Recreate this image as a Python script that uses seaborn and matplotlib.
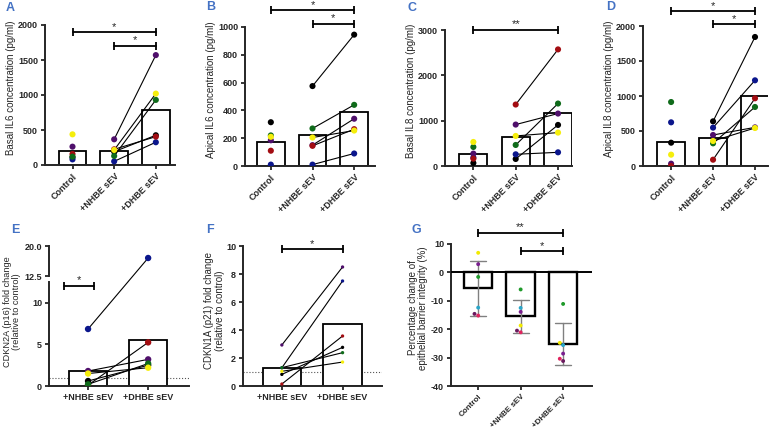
import numpy as np
import pandas as pd
import matplotlib.pyplot as plt
import seaborn as sns
from matplotlib.patches import ConnectionPatch

sns.set_style("ticks")
plt.rcParams["font.family"] = ["Liberation Sans", "DejaVu Sans"]
plt.rcParams["axes.unicode_minus"] = False

# -----------------------------
# data
# -----------------------------
groups3 = ["Control", "+NHBE sEV", "+DHBE sEV"]
groups2 = ["+NHBE sEV", "+DHBE sEV"]
donors = ["black", "navy", "purple", "red", "green", "yellow"]
donor_colors = ["#000000", "#0b168c", "#4f0f6b", "#a30d12", "#0f6b1a", "#f5ee0c"]

# A - basal IL6 (pg/ml)
a_ctrl = [110, 80, 262, 157, 119, 438]
a_nhbe = [190, 52, 367, 224, 129, 215]
a_dhbe = [425, 325, 1570, 405, 930, 1020]

# B - apical IL6 (pg/ml)
b_ctrl = [315, 10, 185, 110, 220, 210]
b_nhbe = [575, 10, 150, 145, 270, 205]
b_dhbe = [945, 90, 340, 265, 440, 255]

# C - basal IL8 (pg/ml)
c_ctrl = [66, 187, 273, 162, 420, 530]
c_nhbe = [155, 258, 914, 1356, 464, 663]
c_dhbe = [906, 302, 1157, 2572, 1378, 737]

# D - apical IL8 (pg/ml)
d_ctrl = [333, 624, 33, 0, 914, 162]
d_nhbe = [638, 548, 443, 90, 324, 357]
d_dhbe = [1843, 1224, 552, 967, 843, 543]

# E - CDKN2A (p16) fold change
e_nhbe = [0.6, 6.85, 1.8, 0.1, 0.2, 1.5]
e_dhbe = [2.5, 17.0, 3.2, 5.24, 2.7, 2.2]

# F - CDKN1A (p21) fold change
f_nhbe = [0.83, 1.3, 2.93, 0.14, 1.31, 1.05]
f_dhbe = [2.76, 7.5, 8.5, 3.57, 2.38, 1.71]

# G - barrier integrity change (%)
g_donors = ["yellow", "purple", "green", "cyan", "crimson", "plum"]
g_colors = ["#f2ea00", "#7a1f8f", "#1f9a2a", "#2aa6c9", "#e0245e", "#6b1a5e"]
g_ctrl = [6.9, 2.9, -1.6, -12.4, -15.2, -14.6]
g_nhbe = [-18.7, -13.9, -6.0, -12.5, -21.1, -20.5]
g_dhbe = [-24.8, -28.6, -11.1, -25.6, -30.4, -31.2]


def make_df(cols, order, names):
    rows = []
    for g, vals in zip(order, cols):
        for d, v in zip(names, vals):
            rows.append({"group": g, "donor": d, "value": v})
    return pd.DataFrame(rows)


W, H = 784, 432
fig = plt.figure(figsize=(W / 100, H / 100), dpi=100)


def add_ax(x0, y0, x1, y1):
    return fig.add_axes([x0 / W, 1 - y1 / H, (x1 - x0) / W, (y1 - y0) / H])


def style(ax, xlim, ylim, yticks, rot=True, order=groups3, xfs=6.5):
    ax.set_xlim(xlim)
    ax.set_ylim(ylim)
    ax.set_yticks(yticks)
    sns.despine(ax=ax)
    for s in ["left", "bottom"]:
        ax.spines[s].set_linewidth(1.4)
    ax.tick_params(width=1.3, length=3, labelsize=6.5, pad=2)
    ax.set_xticks(range(len(order)))
    if rot:
        ax.set_xticklabels(order, rotation=45, ha="right", rotation_mode="anchor",
                           fontweight="bold", fontsize=xfs)
    else:
        ax.set_xticklabels(order, fontweight="bold", fontsize=xfs)
    for lab in ax.get_yticklabels():
        lab.set_fontweight("bold")
    ax.set_xlabel("")


def bracket(ax, x1, x2, y, text):
    ax.plot([x1, x2], [y, y], color="black", lw=1.3, marker="|", ms=6, mew=1.3,
            clip_on=False, zorder=4)
    ax.annotate(text, ((x1 + x2) / 2, y), xytext=(0, 0.5), textcoords="offset points",
                ha="center", va="bottom", fontsize=8, annotation_clip=False)


def paired_panel(ax, df, order, nhbe, dhbe, size=4.4, width=0.66, lw=1.3):
    sns.barplot(data=df, x="group", y="value", order=order, errorbar=None,
                color="white", edgecolor="black", linewidth=lw, width=width, ax=ax)
    i0 = order.index("+NHBE sEV")
    for v0, v1 in zip(nhbe, dhbe):
        ax.plot([i0, i0 + 1], [v0, v1], color="black", lw=0.8, zorder=3)
    sns.stripplot(data=df, x="group", y="value", order=order, hue="donor",
                  hue_order=donors, palette=donor_colors, jitter=False, size=size,
                  linewidth=0, legend=False, ax=ax, zorder=4)


def panel_letter(x, y, s):
    fig.text(x / W, 1 - y / H, s, color="#4472c4", fontsize=9, fontweight="bold",
             ha="left", va="center")


# -----------------------------
# A
# -----------------------------
ax = add_ax(45, 25, 175, 165)
paired_panel(ax, make_df([a_ctrl, a_nhbe, a_dhbe], groups3, donors), groups3, a_nhbe, a_dhbe)
style(ax, (-0.66, 2.46), (0, 2000), [0, 500, 1000, 1500, 2000])
ax.set_ylabel("Basal IL6 concentration (pg/ml)", fontsize=7)
ax.yaxis.set_label_coords(-0.22, 0.55)
bracket(ax, 0, 2, 1895, "*")
bracket(ax, 1, 2, 1700, "*")
panel_letter(6, 8, "A")

# -----------------------------
# B
# -----------------------------
ax = add_ax(245, 27, 375, 166)
paired_panel(ax, make_df([b_ctrl, b_nhbe, b_dhbe], groups3, donors), groups3, b_nhbe, b_dhbe)
style(ax, (-0.62, 2.5), (0, 1000), [0, 200, 400, 600, 800, 1000])
ax.set_ylabel("Apical IL6 concentration (pg/ml)", fontsize=7)
ax.yaxis.set_label_coords(-0.22, 0.55)
bracket(ax, 0, 2, 1120, "*")
bracket(ax, 1, 2, 1024, "*")
panel_letter(206, 7, "B")

# -----------------------------
# C
# -----------------------------
ax = add_ax(445, 30, 572, 166)
paired_panel(ax, make_df([c_ctrl, c_nhbe, c_dhbe], groups3, donors), groups3, c_nhbe, c_dhbe)
style(ax, (-0.67, 2.33), (0, 3000), [0, 1000, 2000, 3000])
ax.set_ylabel("Basal IL8 concentration (pg/ml)", fontsize=7)
ax.yaxis.set_label_coords(-0.23, 0.55)
bracket(ax, 0, 2, 3000, "**")
panel_letter(408, 8, "C")

# -----------------------------
# D
# -----------------------------
ax = add_ax(643, 26, 768, 166)
paired_panel(ax, make_df([d_ctrl, d_nhbe, d_dhbe], groups3, donors), groups3, d_nhbe, d_dhbe)
style(ax, (-0.67, 2.31), (0, 2000), [0, 500, 1000, 1500, 2000])
ax.set_ylabel("Apical IL8 concentration (pg/ml)", fontsize=7)
ax.yaxis.set_label_coords(-0.23, 0.55)
bracket(ax, 0, 2, 2210, "*")
bracket(ax, 1, 2, 2024, "*")
panel_letter(606, 7, "D")

# -----------------------------
# E (broken axis)
# -----------------------------
df_e = make_df([e_nhbe, e_dhbe], groups2, donors)
ax_hi = add_ax(49, 246, 189, 276)
ax_lo = add_ax(49, 282, 189, 386)
for a in (ax_hi, ax_lo):
    a.patch.set_visible(False)
    sns.barplot(data=df_e, x="group", y="value", order=groups2, errorbar=None,
                color="white", edgecolor="black", linewidth=1.3, width=0.64, ax=a)
    sns.stripplot(data=df_e, x="group", y="value", order=groups2, hue="donor",
                  hue_order=donors, palette=donor_colors, jitter=False, size=4.6,
                  linewidth=0, legend=False, ax=a, zorder=4)
for i, (v0, v1) in enumerate(zip(e_nhbe, e_dhbe)):
    if v1 > 12.5:
        con = ConnectionPatch(xyA=(0, v0), coordsA=ax_lo.transData,
                              xyB=(1, v1), coordsB=ax_hi.transData,
                              color="black", lw=0.8, zorder=-1)
        fig.add_artist(con)
    else:
        ax_lo.plot([0, 1], [v0, v1], color="black", lw=0.8, zorder=3)
ax_lo.axhline(1, color="#555555", ls=":", lw=0.8, zorder=0)
style(ax_lo, (-0.65, 1.68), (0, 12.5), [0, 5, 10], rot=False, order=groups2)
style(ax_hi, (-0.65, 1.68), (12.5, 20), [12.5, 20], rot=False, order=groups2)
ax_hi.set_yticklabels(["12.5", "20.0"], fontweight="bold")
ax_hi.spines["bottom"].set_visible(False)
ax_hi.set_xticks([])
ax_lo.set_ylabel("")
ax_hi.set_ylabel("")
fig.text(12 / W, 1 - 312 / H, "CDKN2A (p16) fold change\n(relative to control)",
         rotation=90, ha="center", va="center", fontsize=6.6, linespacing=1.05)
bracket(ax_lo, -0.4, 0.1, 12.0, "*")
panel_letter(11, 230, "E")

# -----------------------------
# F
# -----------------------------
ax = add_ax(243, 246, 382, 386)
paired_panel(ax, make_df([f_nhbe, f_dhbe], groups2, donors), groups2, f_nhbe, f_dhbe,
             size=2.4, width=0.635)
ax.axhline(1, color="#555555", ls=":", lw=0.8, zorder=0)
style(ax, (-0.64, 1.65), (0, 10), [0, 2, 4, 6, 8, 10], rot=False, order=groups2)
ax.set_ylabel("CDKN1A (p21) fold change\n(relative to control)", fontsize=7, linespacing=1.1)
ax.yaxis.set_label_coords(-0.13, 0.54)
bracket(ax, 0, 1, 9.76, "*")
panel_letter(206, 230, "F")

# -----------------------------
# G
# -----------------------------
ax = add_ax(451, 244, 592, 386)
df_g = make_df([g_ctrl, g_nhbe, g_dhbe], groups3, g_donors)
sns.barplot(data=df_g, x="group", y="value", order=groups3, errorbar="sd", capsize=0.38,
            err_kws={"color": "#808080", "linewidth": 1.0},
            color="white", edgecolor="black", linewidth=1.7, width=0.67, ax=ax)
sns.swarmplot(data=df_g, x="group", y="value", order=groups3, hue="donor",
              hue_order=g_donors, palette=g_colors, size=2.8, linewidth=0,
              legend=False, ax=ax, zorder=4)
ax.axhline(0, color="black", lw=1.4, zorder=5)
style(ax, (-0.64, 2.68), (-40, 10), [-40, -30, -20, -10, 0, 10], xfs=5.8)
ax.set_ylabel("Percentage change of\nepithelial barrier integrity (%)", fontsize=7,
              linespacing=1.1)
ax.yaxis.set_label_coords(-0.16, 0.55)
bracket(ax, 0, 2, 13.8, "**")
bracket(ax, 1, 2, 7.4, "*")
panel_letter(411, 230, "G")

fig.savefig("out.png", dpi=100)
